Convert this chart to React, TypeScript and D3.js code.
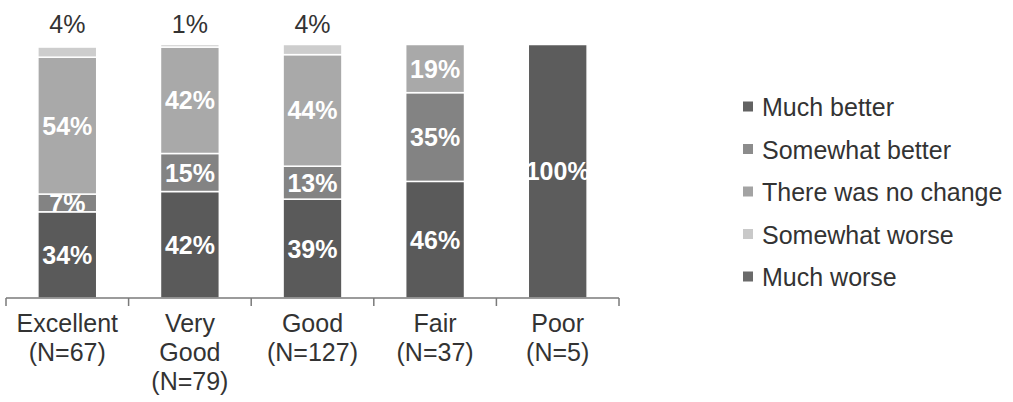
import React from "react";
import * as d3 from "d3";

const categories = ["Excellent", "Very Good", "Good", "Fair", "Poor"];
const categoryLines = [
  ["Excellent", "(N=67)"],
  ["Very", "Good", "(N=79)"],
  ["Good", "(N=127)"],
  ["Fair", "(N=37)"],
  ["Poor", "(N=5)"],
];
const seriesNames = ["Much better", "Somewhat better", "There was no change", "Somewhat worse", "Much worse"];
const muchBetter = [34, 42, 39, 46, 0];
const somewhatBetter = [7, 15, 13, 35, 0];
const noChange = [54, 42, 44, 19, 0];
const somewhatWorse = [4, 1, 4, 0, 0];
const muchWorse = [0, 0, 0, 0, 100];

const seriesValues = [muchBetter, somewhatBetter, noChange, somewhatWorse, muchWorse];
const colors = ["#5a5a5a", "#838383", "#a9a9a9", "#cdcdcd", "#5c5c5c"];
const legendColors = ["#626262", "#8c8c8c", "#a3a3a3", "#c9c9c9", "#6a6a6a"];

const FONT = "'Liberation Sans', Arial, sans-serif";

export default function App() {
  const W = 1013, H = 402;
  const left = 6, right = 619, top = 44.5, bottom = 298;
  const x = d3.scaleBand<string>().domain(categories).range([left, right]).paddingInner(0.52).paddingOuter(0.26);
  const y = d3.scaleLinear().domain([0, 100]).range([bottom, top]);
  const bandStep = (right - left) / categories.length;

  const rows = categories.map((c, i) => {
    const obj: any = { cat: c };
    seriesNames.forEach((s, j) => (obj[s] = seriesValues[j][i]));
    return obj;
  });
  const stack = d3.stack<any>().keys(seriesNames)(rows);

  return (
    <svg width={W} height={H} style={{ position: "absolute", left: 0, top: 0, background: "#fff" }} fontFamily={FONT}>
      <rect x={0} y={0} width={W} height={H} fill="#fff" />
      {stack.map((layer, j) => (
        <g key={seriesNames[j]}>
          {layer.map((d, i) => {
            const v = d[1] - d[0];
            if (v <= 0) return null;
            const bx = x(categories[i])!;
            const bw = x.bandwidth();
            const y0 = y(d[0]);
            const y1 = y(d[1]);
            const isWorse = seriesNames[j] === "Somewhat worse";
            return (
              <g key={i}>
                <rect x={bx} y={y1} width={bw} height={y0 - y1} fill={colors[j]} stroke="#fff" strokeWidth={1.5} />
                {isWorse ? (
                  <text x={bx + bw / 2} y={y(100) - 12} textAnchor="middle" fontSize={25} fill="#333">{v}%</text>
                ) : (
                  <text x={bx + bw / 2} y={(y0 + y1) / 2 + 9} textAnchor="middle" fontSize={25} fontWeight="bold" fill="#fff">{v}%</text>
                )}
              </g>
            );
          })}
        </g>
      ))}
      <line x1={left} x2={right} y1={bottom} y2={bottom} stroke="#7a7a7a" strokeWidth={1.5} />
      {d3.range(categories.length + 1).map((k) => (
        <line key={k} x1={left + k * bandStep} x2={left + k * bandStep} y1={bottom} y2={bottom + 8} stroke="#7a7a7a" strokeWidth={1.5} />
      ))}
      {categoryLines.map((lines, i) => (
        <text key={i} x={x(categories[i])! + x.bandwidth() / 2} y={bottom + 34} textAnchor="middle" fontSize={25} fill="#333">
          {lines.map((ln, k) => (
            <tspan key={k} x={x(categories[i])! + x.bandwidth() / 2} dy={k === 0 ? 0 : 29}>{ln}</tspan>
          ))}
        </text>
      ))}
      {seriesNames.map((s, j) => (
        <g key={s} transform={`translate(743, ${107 + j * 42.5})`}>
          <rect x={0} y={-5.5} width={10} height={10} fill={legendColors[j]} />
          <text x={19} y={9} fontSize={25} fill="#333">{s}</text>
        </g>
      ))}
    </svg>
  );
}
